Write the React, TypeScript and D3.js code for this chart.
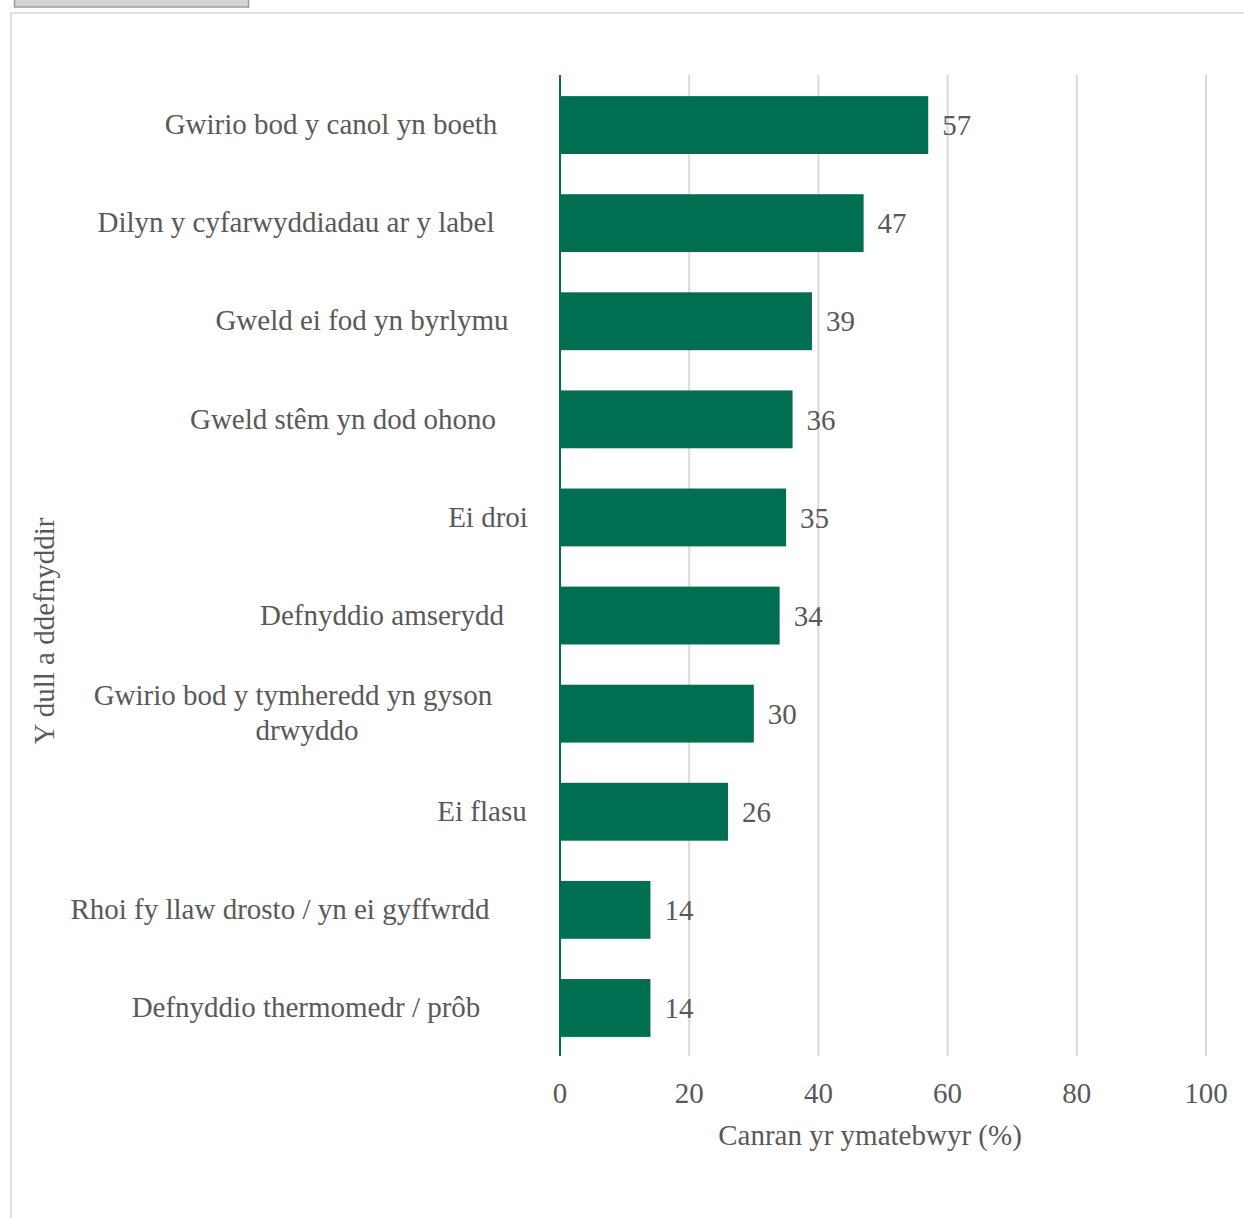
import React from "react";
import * as d3 from "d3";

const categories = [
  "Gwirio bod y canol yn boeth",
  "Dilyn y cyfarwyddiadau ar y label",
  "Gweld ei fod yn byrlymu",
  "Gweld stêm yn dod ohono",
  "Ei droi",
  "Defnyddio amserydd",
  "Gwirio bod y tymheredd yn gyson drwyddo",
  "Ei flasu",
  "Rhoi fy llaw drosto / yn ei gyffwrdd",
  "Defnyddio thermomedr / prôb",
];
const values = [57, 47, 39, 36, 35, 34, 30, 26, 14, 14];
const xTicks = [0, 20, 40, 60, 80, 100];
const xTitle = "Canran yr ymatebwyr (%)";
const yTitle = "Y dull a ddefnyddir";

// layout: wrapped lines per category and horizontal line centres (Excel-like placement)
const labelLines: string[][] = [
  ["Gwirio bod y canol yn boeth"],
  ["Dilyn y cyfarwyddiadau ar y label"],
  ["Gweld ei fod yn byrlymu"],
  ["Gweld stêm yn dod ohono"],
  ["Ei droi"],
  ["Defnyddio amserydd"],
  ["Gwirio bod y tymheredd yn gyson", "drwyddo"],
  ["Ei flasu"],
  ["Rhoi fy llaw drosto / yn ei gyffwrdd"],
  ["Defnyddio thermomedr / prôb"],
];
const labelCentres: number[][] = [[331], [296], [362], [343], [488], [382], [293, 307], [482], [280], [306]];

const W = 1244;
const H = 1218;
const FONT = "'Liberation Serif', 'Times New Roman', serif";
const FS = 29;
const TEXT = "#595959";
const GREEN = "#006e51";

export default function App() {
  const x = d3.scaleLinear().domain([0, 100]).range([560, 1206]);
  const y = d3
    .scaleBand<string>()
    .domain(categories)
    .range([76, 1057])
    .paddingInner(0.41)
    .paddingOuter(0.205);

  return (
    <div style={{ position: "absolute", left: 0, top: 0 }}>
      <svg width={W} height={H} style={{ display: "block" }}>
        <rect x={0} y={0} width={W} height={H} fill="#ffffff" />
        {/* top grey tab */}
        <rect x={14.5} y={-2} width={234} height={9} fill="#d4d4d4" stroke="#9a9a9a" strokeWidth={1.5} />
        {/* frame */}
        <path d={`M11,${H} L11,13 L${W},13`} fill="none" stroke="#e0e0e0" strokeWidth={2} />

        {/* gridlines */}
        {xTicks
          .filter((t) => t > 0)
          .map((t) => (
            <line key={t} x1={x(t)} x2={x(t)} y1={75} y2={1056} stroke="#d9d9d9" strokeWidth={2} />
          ))}

        {/* bars */}
        {categories.map((c, i) => (
          <rect
            key={c}
            x={x(0)}
            y={y(c)}
            width={x(values[i]) - x(0)}
            height={y.bandwidth()}
            fill={GREEN}
          />
        ))}

        {/* axis line */}
        <line x1={x(0)} x2={x(0)} y1={75} y2={1056} stroke={GREEN} strokeWidth={2} />

        {/* value labels */}
        {categories.map((c, i) => (
          <text
            key={c}
            x={x(values[i]) + 14}
            y={(y(c) ?? 0) + y.bandwidth() / 2}
            dy="0.35em"
            fontFamily={FONT}
            fontSize={FS}
            fill={TEXT}
          >
            {values[i]}
          </text>
        ))}

        {/* category labels */}
        {categories.map((c, i) => {
          const lines = labelLines[i];
          const cy = (y(c) ?? 0) + y.bandwidth() / 2;
          const lh = 35;
          return (
            <text key={c} textAnchor="middle" fontFamily={FONT} fontSize={FS} fill={TEXT}>
              {lines.map((l, j) => (
                <tspan
                  key={j}
                  x={labelCentres[i][j]}
                  y={cy - ((lines.length - 1) * lh) / 2 + j * lh - 1}
                  dy="0.35em"
                >
                  {l}
                </tspan>
              ))}
            </text>
          );
        })}

        {/* x ticks */}
        {xTicks.map((t) => (
          <text key={t} x={x(t)} y={1103} textAnchor="middle" fontFamily={FONT} fontSize={FS} fill={TEXT}>
            {t}
          </text>
        ))}

        {/* axis titles */}
        <text x={870} y={1145} textAnchor="middle" fontFamily={FONT} fontSize={FS} fill={TEXT}>
          {xTitle}
        </text>
        <text
          transform="translate(54,631) rotate(-90)"
          textAnchor="middle"
          fontFamily={FONT}
          fontSize={FS}
          fill={TEXT}
        >
          {yTitle}
        </text>
      </svg>
    </div>
  );
}
